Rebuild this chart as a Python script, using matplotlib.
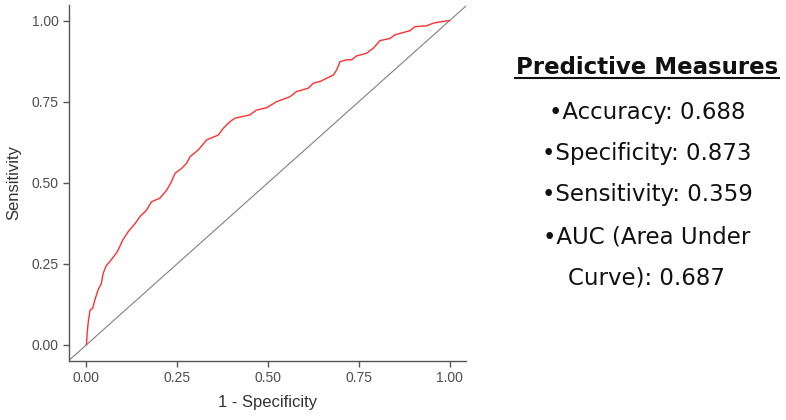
import matplotlib.pyplot as plt

# ROC curve (1 - specificity, sensitivity)
fpr = [0.0, 0.002, 0.005, 0.01, 0.017, 0.023, 0.032, 0.041, 0.046, 0.054,
       0.069, 0.085, 0.1, 0.115, 0.134, 0.147, 0.166, 0.179, 0.202, 0.221,
       0.234, 0.244, 0.262, 0.276, 0.285, 0.308, 0.331, 0.363, 0.377, 0.395,
       0.409, 0.45, 0.468, 0.496, 0.524, 0.56, 0.578, 0.61, 0.625, 0.643,
       0.661, 0.68, 0.689, 0.698, 0.716, 0.73, 0.744, 0.771, 0.79, 0.808,
       0.836, 0.849, 0.872, 0.891, 0.904, 0.937, 0.955, 0.973, 1.0]
tpr = [0.0, 0.035, 0.071, 0.107, 0.112, 0.138, 0.169, 0.189, 0.22, 0.243,
       0.263, 0.287, 0.323, 0.349, 0.374, 0.395, 0.416, 0.441, 0.452, 0.477,
       0.503, 0.529, 0.544, 0.56, 0.58, 0.601, 0.632, 0.647, 0.668, 0.688,
       0.699, 0.709, 0.724, 0.731, 0.75, 0.765, 0.781, 0.791, 0.807, 0.812,
       0.822, 0.832, 0.848, 0.873, 0.879, 0.879, 0.891, 0.899, 0.915, 0.938,
       0.945, 0.956, 0.963, 0.969, 0.981, 0.984, 0.992, 0.996, 1.0]

ticks = [0.0, 0.25, 0.5, 0.75, 1.0]
tick_labels = ['0.00', '0.25', '0.50', '0.75', '1.00']

measure_names = ['Accuracy', 'Specificity', 'Sensitivity', 'AUC (Area Under\nCurve)']
measure_values = [0.688, 0.873, 0.359, 0.687]

fig = plt.figure(figsize=(7.86, 4.2), dpi=100)
ax = fig.add_axes([0.0878, 0.1405, 0.5051, 0.8476])

ax.plot(fpr, tpr, color='#ff3030', linewidth=1.0, zorder=3)
ax.axline((0, 0), (1, 1), color='#808080', linewidth=0.8, zorder=2)

ax.set_xlim(-0.048, 1.045)
ax.set_ylim(-0.05, 1.048)
ax.set_xticks(ticks)
ax.set_xticklabels(tick_labels, family='Liberation Sans')
ax.set_yticks(ticks)
ax.set_yticklabels(tick_labels, family='Liberation Sans')

for s in ['top', 'right']:
    ax.spines[s].set_visible(False)
for s in ['left', 'bottom']:
    ax.spines[s].set_color('#555555')
    ax.spines[s].set_linewidth(1.0)
ax.tick_params(colors='#555555', labelcolor='#4d4d4d', labelsize=10,
               length=4, width=1.0)

ax.set_xlabel('1 - Specificity', fontsize=12, color='#333333', labelpad=7,
              family='Liberation Sans')
ax.set_ylabel('Sensitivity', fontsize=12, color='#333333', labelpad=7,
              family='Liberation Sans')

# text panel on the right
cx = 647 / 786
fig.text(cx, 1 - 67 / 420, 'Predictive Measures', ha='center', va='center',
         fontsize=16.5, fontweight='bold', color='#111111')
fig.add_artist(plt.Line2D([(647 - 132) / 786, (647 + 132) / 786],
                          [1 - 78 / 420, 1 - 78 / 420],
                          color='#111111', linewidth=1.5))

lines = []
for name, val in zip(measure_names, measure_values):
    lines.extend(('\u2022' + name + ': ' + f'{val:.3f}').split('\n'))
y = 112
for ln in lines:
    fig.text(cx, 1 - y / 420, ln, ha='center', va='center', fontsize=16.5,
             color='#111111')
    y += 41.5

fig.savefig('out.png', dpi=100)
